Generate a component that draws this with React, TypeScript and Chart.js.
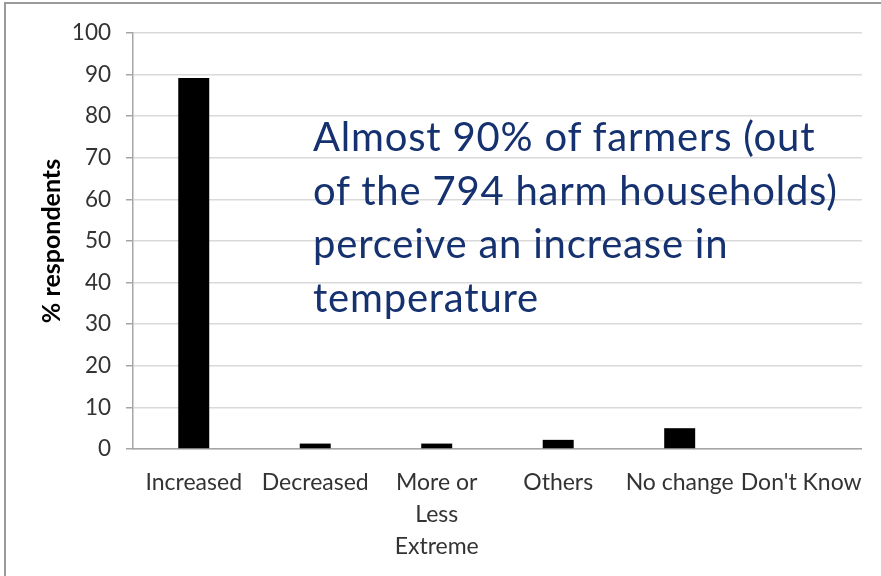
import React, { useEffect, useRef } from "react";
import { Chart, registerables } from "chart.js";

Chart.register(...registerables);

// Perceived change in temperature, share of respondents
const categories: (string | string[])[] = [
  "Increased",
  "Decreased",
  ["More or", "Less", "Extreme"],
  "Others",
  "No change",
  "Don't Know",
];
const respondentsPct = [89.2, 1.3, 1.3, 2.2, 5.0, 0];
const yTicks = [0, 10, 20, 30, 40, 50, 60, 70, 80, 90, 100];

const noteLines = [
  "Almost 90% of farmers (out",
  "of the 794 harm households)",
  "perceive an increase in",
  "temperature",
];

const W = 881;
const H = 576;
const PLOT_LEFT = 133;
const PLOT_RIGHT = 864;
const PLOT_TOP = 33;
const PLOT_BOTTOM = 449;
const FONT = "Lato, 'Open Sans', sans-serif";

export default function App() {
  const canvasRef = useRef<HTMLCanvasElement | null>(null);

  useEffect(() => {
    const canvas = canvasRef.current;
    if (!canvas) return;
    const chart = new Chart(canvas, {
      type: "bar",
      data: {
        labels: categories,
        datasets: [
          {
            data: respondentsPct,
            backgroundColor: "#000000",
            borderWidth: 0,
            barPercentage: 0.255,
            categoryPercentage: 1,
          },
        ],
      },
      options: {
        responsive: false,
        animation: false,
        maintainAspectRatio: false,
        layout: {
          padding: { left: 0, top: PLOT_TOP, right: W - PLOT_RIGHT, bottom: 0 },
        },
        plugins: {
          legend: { display: false },
          tooltip: { enabled: false },
          title: { display: false },
        },
        scales: {
          x: {
            grid: { display: false, drawTicks: false },
            border: { display: true, color: "#a6a6a6", width: 1.5 },
            ticks: {
              color: "#333333",
              font: { family: FONT, size: 23, lineHeight: 1.39 },
              padding: 18,
              maxRotation: 0,
              minRotation: 0,
              autoSkip: false,
            },
            afterFit: (s: any) => {
              s.height = H - PLOT_BOTTOM;
            },
          },
          y: {
            min: 0,
            max: 100,
            afterBuildTicks: (s: any) => {
              s.ticks = yTicks.map((v) => ({ value: v }));
            },
            grid: {
              color: "#d9d9d9",
              lineWidth: 1.5,
              drawTicks: true,
              tickLength: 7,
              tickColor: "#a6a6a6",
            },
            border: { display: true, color: "#a6a6a6", width: 1.5 },
            ticks: {
              color: "#333333",
              font: { family: FONT, size: 22.5 },
              padding: 15,
            },
            title: {
              display: true,
              text: "% respondents",
              color: "#000000",
              font: { family: FONT, size: 25, weight: "bold" },
              padding: { top: 37, bottom: 0 },
            },
            afterFit: (s: any) => {
              s.width = PLOT_LEFT;
            },
          },
        },
      },
    });
    return () => chart.destroy();
  }, []);

  return (
    <div
      style={{
        position: "fixed",
        left: 0,
        top: 0,
        width: W,
        height: H,
        background: "#ffffff",
        overflow: "hidden",
      }}
    >
      <canvas ref={canvasRef} width={W} height={H} style={{ display: "block" }} />
      <div
        style={{
          position: "absolute",
          left: 4,
          top: 2,
          right: 0,
          bottom: 0,
          borderLeft: "2px solid #9a9a9a",
          borderTop: "2px solid #9a9a9a",
          pointerEvents: "none",
        }}
      />
      <div
        style={{
          position: "absolute",
          left: 313,
          top: 110,
          color: "#15316f",
          fontFamily: FONT,
          fontSize: 40,
          letterSpacing: "0.8px",
          lineHeight: "53.5px",
          whiteSpace: "nowrap",
        }}
      >
        {noteLines.map((l, i) => (
          <div key={i}>{l}</div>
        ))}
      </div>
    </div>
  );
}
